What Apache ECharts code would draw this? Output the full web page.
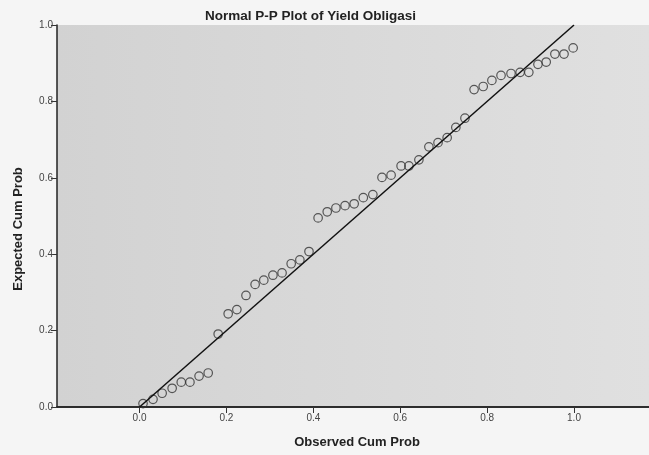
<!DOCTYPE html>
<html>
<head>
<meta charset="utf-8">
<script src="https://cdn.jsdelivr.net/npm/echarts@6/dist/echarts.min.js"></script>
<style>
html,body{margin:0;padding:0;background:#f5f5f5;}
#chart{width:649px;height:455px;}
</style>
</head>
<body>
<div id="chart"></div>
<script>
// Observed cumulative probability (x) and expected cumulative probability (y)
var observedCumProb = [0.008,0.031,0.052,0.075,0.096,0.116,0.137,0.158,0.181,0.204,0.224,0.245,0.266,0.286,0.307,0.328,0.349,0.369,0.390,0.411,0.432,0.452,0.473,0.494,0.515,0.537,0.558,0.579,0.602,0.620,0.643,0.666,0.687,0.708,0.728,0.749,0.770,0.791,0.811,0.832,0.855,0.876,0.896,0.917,0.936,0.956,0.977,0.998];
var expectedCumProb = [0.009,0.020,0.036,0.049,0.065,0.065,0.081,0.089,0.191,0.244,0.255,0.292,0.321,0.332,0.345,0.351,0.375,0.385,0.407,0.495,0.511,0.521,0.527,0.532,0.548,0.556,0.601,0.607,0.631,0.631,0.647,0.681,0.692,0.705,0.732,0.756,0.831,0.839,0.855,0.868,0.873,0.876,0.876,0.897,0.903,0.924,0.924,0.940];
var tickValues = [0, 0.2, 0.4, 0.6, 0.8, 1.0];
var referenceLine = [[0, 0], [1, 1]];

var points = observedCumProb.map(function (x, i) { return [x, expectedCumProb[i]]; });

var chart = echarts.init(document.getElementById('chart'));
var fontFam = '"Liberation Sans", Arial, sans-serif';
chart.setOption({
  backgroundColor: '#f5f5f5',
  animation: false,
  title: {
    text: 'Normal P-P Plot of Yield Obligasi',
    left: 200, top: 4,
    textStyle: {fontFamily: fontFam, fontSize: 13.5, fontWeight: 'bold', color: '#222'}
  },
  grid: {
    left: 57, right: 0, top: 25, bottom: 48,
    show: true, borderWidth: 0,
    backgroundColor: new echarts.graphic.LinearGradient(0, 0, 1, 0, [
      {offset: 0, color: '#d2d2d2'}, {offset: 1, color: '#e0e0e0'}
    ])
  },
  xAxis: [{
    type: 'value', min: -0.19, max: 1.1726,
    name: 'Observed Cum Prob', nameLocation: 'middle', nameGap: 29,
    nameTextStyle: {fontFamily: fontFam, fontSize: 13, fontWeight: 'bold', color: '#222', padding: [0, 0, 0, 8]},
    axisLine: {show: true, onZero: false, lineStyle: {color: '#222', width: 1.5}},
    axisTick: {show: true, customValues: tickValues, length: 6, lineStyle: {color: '#333'}},
    axisLabel: {customValues: tickValues, formatter: function (v) { return v.toFixed(1); },
      fontFamily: fontFam, fontSize: 10, color: '#444', margin: 6},
    splitLine: {show: false}
  }, {
    type: 'value', position: 'top', min: -0.19, max: 1.1726,
    axisLine: {show: true, lineStyle: {color: '#222', width: 1.5}},
    axisTick: {show: false}, axisLabel: {show: false}, splitLine: {show: false}
  }],
  yAxis: {
    type: 'value', min: 0, max: 1, interval: 0.2,
    axisLine: {show: true, onZero: false, lineStyle: {color: '#222', width: 1.5}},
    axisTick: {show: true, length: 6, lineStyle: {color: '#333'}},
    axisLabel: {formatter: function (v) { return v.toFixed(1); },
      fontFamily: fontFam, fontSize: 10, color: '#444', margin: 4},
    splitLine: {show: false}
  },
  graphic: [{
    type: 'text', x: 18, y: 229, rotation: Math.PI / 2,
    style: {text: 'Expected Cum Prob', fontFamily: fontFam, fontSize: 13, fontWeight: 'bold',
      fill: '#222', align: 'center', verticalAlign: 'middle'}
  }],
  series: [{
    type: 'line', data: referenceLine, showSymbol: false, symbol: 'none',
    lineStyle: {color: '#111', width: 1.5}, clip: true, silent: true
  }, {
    type: 'scatter', data: points, symbol: 'circle', symbolSize: 8.5,
    itemStyle: {color: 'rgba(0,0,0,0)', borderColor: '#333', borderWidth: 1.2}
  }]
});
</script>
</body>
</html>
